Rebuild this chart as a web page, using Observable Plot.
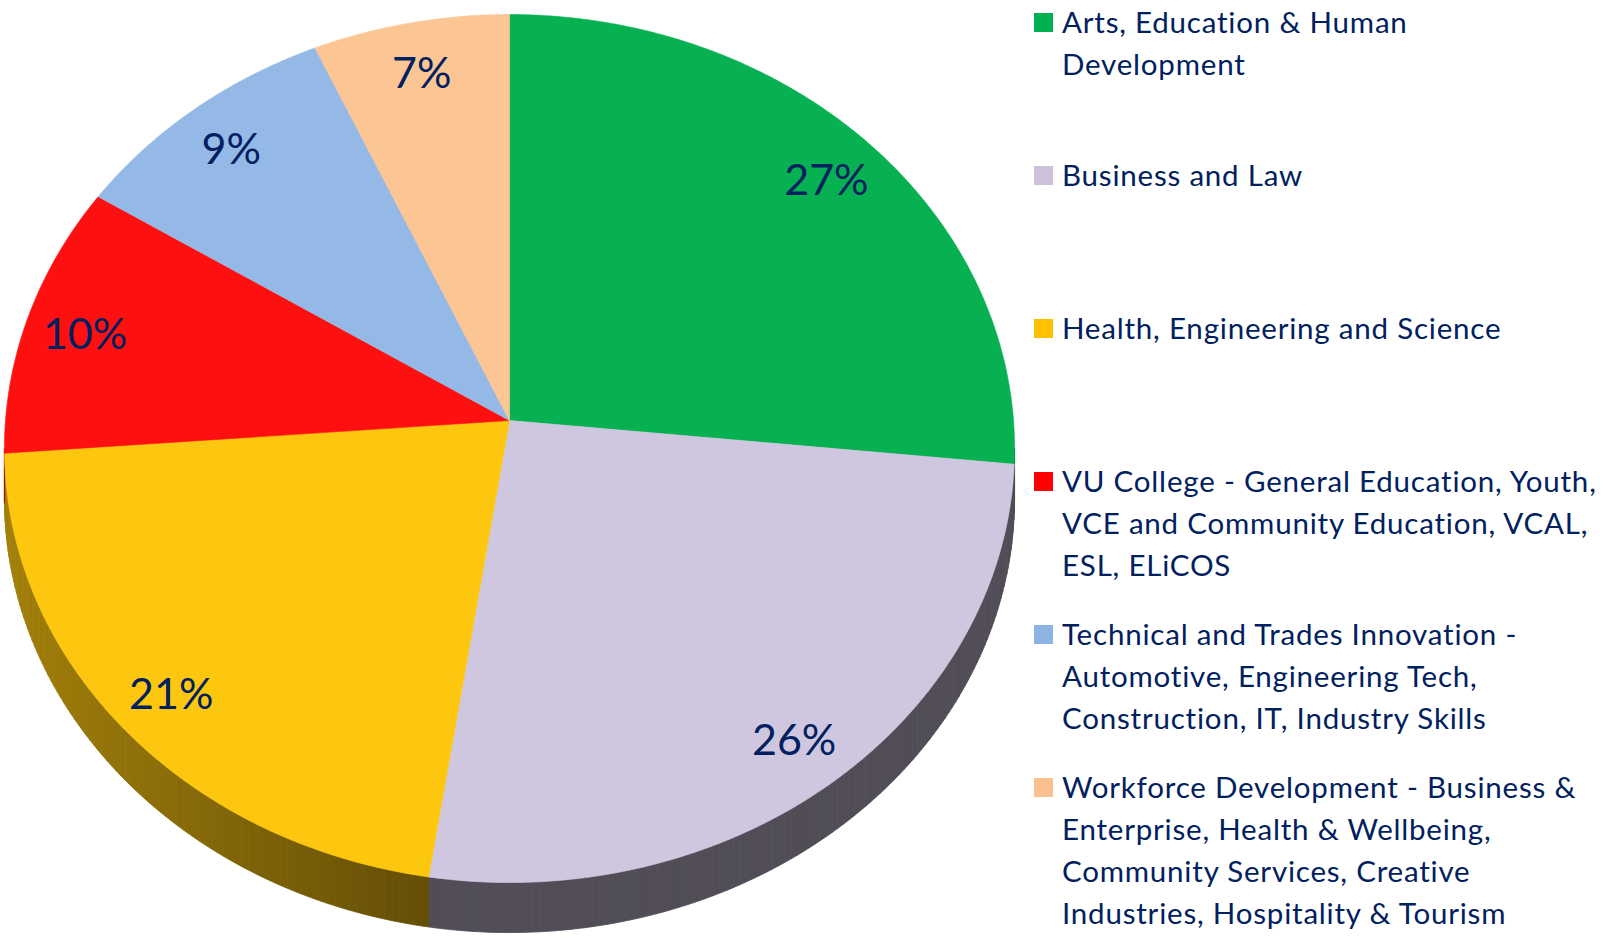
<!DOCTYPE html>
<html><head><meta charset="utf-8">
<script src="https://cdn.jsdelivr.net/npm/d3@7"></script>
<script src="https://cdn.jsdelivr.net/npm/@observablehq/plot@0.6"></script>
<style>
body{margin:0;background:#fff;font-family:Lato,"Open Sans",sans-serif;}
#wrap{position:relative;width:1604px;height:937px;overflow:hidden;}
#chart{position:absolute;left:0;top:0;}
#legend{position:absolute;left:1034px;top:1px;}
.item{position:relative;height:153px;}
.sw{position:absolute;left:0;top:12px;width:19px;height:19px;}
.lab{position:absolute;left:28px;top:0;font-size:29.5px;letter-spacing:0.8px;line-height:42px;color:#002060;white-space:nowrap;}
</style></head><body>
<div id="wrap"><div id="chart"></div><div id="legend"></div></div>
<script>
// ---- data ----
const categories = [
  "Arts, Education & Human Development",
  "Business and Law",
  "Health, Engineering and Science",
  "VU College - General Education, Youth, VCE and Community Education, VCAL, ESL, ELiCOS",
  "Technical and Trades Innovation - Automotive, Engineering Tech, Construction, IT, Industry Skills",
  "Workforce Development - Business & Enterprise, Health & Wellbeing, Community Services, Creative Industries, Hospitality & Tourism"
];
const shares = [26.6, 25.8, 21.4, 10.2, 9.3, 6.7];
const shareLabels = ["27%", "26%", "21%", "10%", "9%", "7%"];
const faceColors = ["#07b151", "#cfc6df", "#fec70f", "#ff1010", "#95b9e6", "#fcc594"];
const legendColors = ["#00b050", "#ccc0da", "#ffc000", "#ff0000", "#8db3e2", "#fac090"];
const legendLines = [
  ["Arts, Education & Human", "Development"],
  ["Business and Law"],
  ["Health, Engineering and Science"],
  ["VU College - General Education, Youth,", "VCE and Community Education, VCAL,", "ESL, ELiCOS"],
  ["Technical and Trades Innovation -", "Automotive, Engineering Tech,", "Construction, IT, Industry Skills"],
  ["Workforce Development - Business &", "Enterprise, Health & Wellbeing,", "Community Services, Creative", "Industries, Hospitality & Tourism"]
];

// ---- tilted-pie geometry (perspective of a disk) ----
const T = 0.0646;          // perspective factor
const DEPTH = 0.1157;      // side thickness in y units
const LABEL_R = 0.88;
const deg = Math.PI / 180;
function proj(theta, r = 1) {
  const X = r * Math.sin(theta), Y = r * Math.cos(theta);
  const w = 1 + T * Y;
  return [X / w, Y / w];
}
const total = d3.sum(shares);
let acc = 0;
const slices = shares.map((v, i) => {
  const a0 = acc / total * 2 * Math.PI;
  acc += v;
  const a1 = acc / total * 2 * Math.PI;
  return {i, a0, a1};
});

// faces
const faceRows = [];
for (const s of slices) {
  faceRows.push({slice: s.i, x: 0, y: 0});
  const n = Math.max(8, Math.ceil((s.a1 - s.a0) / (0.4 * deg)));
  for (let k = 0; k <= n; k++) {
    const [x, y] = proj(s.a0 + (s.a1 - s.a0) * k / n);
    faceRows.push({slice: s.i, x, y});
  }
  faceRows.push({slice: s.i, x: 0, y: 0});
}

// sides (visible front arc between the silhouette extremes)
const thR = Math.acos(-T), thL = 2 * Math.PI - Math.acos(-T);
const leftX = proj(thL)[0];
function shade(hex, x) {
  const f = 0.39 + 0.25 * Math.max(0, Math.min(1, (-0.16 - x) / (-0.16 - leftX)));
  const c = d3.rgb(hex);
  return d3.rgb(c.r * f, c.g * f, c.b * f).formatHex();
}
const sideRows = [];
let q = 0;
for (const s of slices) {
  const b0 = Math.max(s.a0, thR), b1 = Math.min(s.a1, thL);
  if (b1 <= b0) continue;
  const n = Math.max(2, Math.ceil((b1 - b0) / (0.8 * deg)));
  for (let k = 0; k < n; k++) {
    const t0 = b0 + (b1 - b0) * k / n, t1 = b0 + (b1 - b0) * (k + 1) / n;
    const p0 = proj(t0), p1 = proj(t1);
    const col = shade(faceColors[s.i], (p0[0] + p1[0]) / 2);
    for (const [x, y] of [p0, p1, [p1[0], p1[1] - DEPTH], [p0[0], p0[1] - DEPTH], p0]) {
      sideRows.push({quad: q, col, x, y});
    }
    q++;
  }
}

// labels
const labelRows = slices.map(s => {
  const [x, y] = proj((s.a0 + s.a1) / 2, LABEL_R);
  return {x, y, text: shareLabels[s.i]};
});

const cx = 509, cy = 420, A = 504, B = 432.2;
const chart = Plot.plot({
  width: 1030, height: 937,
  margin: 0,
  x: {domain: [-1, 1], range: [cx - A, cx + A], axis: null},
  y: {domain: [-1, 1], range: [cy + B, cy - B], axis: null},
  color: {type: "identity"},
  style: {fontFamily: "Lato, 'Open Sans', sans-serif", background: "white"},
  marks: [
    Plot.line(sideRows, {x: "x", y: "y", z: "quad", fill: "col", stroke: "col", strokeWidth: 0.8, curve: "linear"}),
    Plot.line(faceRows, {x: "x", y: "y", z: "slice", fill: d => faceColors[d.slice], stroke: d => faceColors[d.slice], strokeWidth: 0.6, curve: "linear"}),
    Plot.text(labelRows, {x: "x", y: "y", text: "text", fontSize: 43, fill: "#002060", dy: 6})
  ]
});
document.getElementById("chart").appendChild(chart);

// legend
const legend = document.getElementById("legend");
categories.forEach((c, i) => {
  const item = document.createElement("div");
  item.className = "item";
  item.title = c;
  const sw = document.createElement("div");
  sw.className = "sw";
  sw.style.background = legendColors[i];
  const lab = document.createElement("div");
  lab.className = "lab";
  legendLines[i].forEach((line, j) => {
    if (j) lab.appendChild(document.createElement("br"));
    lab.appendChild(document.createTextNode(line));
  });
  item.appendChild(sw);
  item.appendChild(lab);
  legend.appendChild(item);
});
</script>
</body></html>
